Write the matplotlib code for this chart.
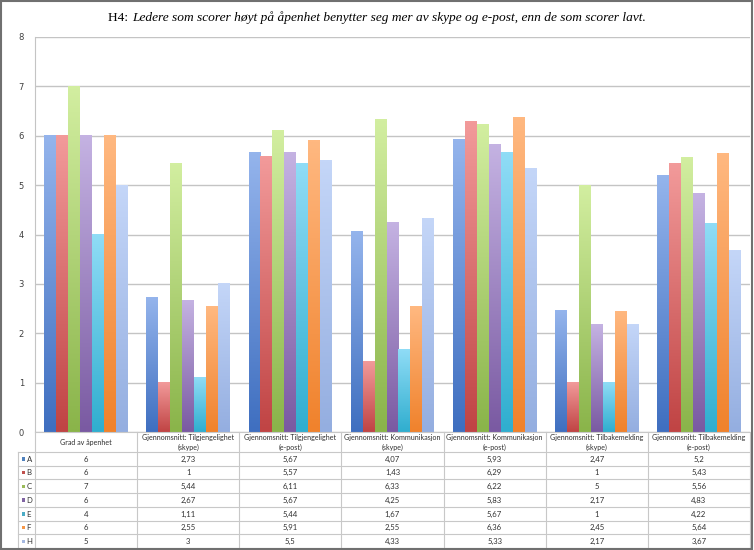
import numpy as np
import matplotlib.pyplot as plt
from matplotlib.colors import to_rgb
from matplotlib.patches import Rectangle

categories = [
    "Grad av åpenhet",
    "Gjennomsnitt: Tilgjengelighet\n(skype)",
    "Gjennomsnitt: Tilgjengelighet\n(e-post)",
    "Gjennomsnitt: Kommunikasjon\n(skype)",
    "Gjennomsnitt: Kommunikasjon\n(e-post)",
    "Gjennomsnitt: Tilbakemelding\n(skype)",
    "Gjennomsnitt: Tilbakemelding\n(e-post)",
]
series = ["A", "B", "C", "D", "E", "F", "H"]
A = [6, 2.73, 5.67, 4.07, 5.93, 2.47, 5.2]
B = [6, 1, 5.57, 1.43, 6.29, 1, 5.43]
C = [7, 5.44, 6.11, 6.33, 6.22, 5, 5.56]
D = [6, 2.67, 5.67, 4.25, 5.83, 2.17, 4.83]
E = [4, 1.11, 5.44, 1.67, 5.67, 1, 4.22]
F = [6, 2.55, 5.91, 2.55, 6.36, 2.45, 5.64]
H = [5, 3, 5.5, 4.33, 5.33, 2.17, 3.67]
values = [A, B, C, D, E, F, H]

# top (light) / bottom (dark) colours of the gradient, plus legend colour
tops = ["#94b4ec", "#f29a9a", "#d2eea0", "#c4b2e2", "#8fdcf6", "#ffb880", "#c4d6f8"]
bottoms = ["#3f6fc0", "#c04444", "#8ab44a", "#7a5aa2", "#30aecf", "#f0822c", "#94aee0"]
keys = ["#4f81bd", "#c0504d", "#9bbb59", "#8064a2", "#4bacc6", "#f79646", "#a5b8e0"]

W, Hpx = 754, 550
fig = plt.figure(figsize=(W / 100, Hpx / 100), dpi=100)
fig.patch.set_facecolor("white")
fig.add_artist(Rectangle((0.001, 0.002), 0.996, 0.996, transform=fig.transFigure,
                         fill=False, edgecolor="#707070", linewidth=1.5))

left, right = 35 / W, 750 / W
ax = fig.add_axes([left, 118 / Hpx, right - left, 395 / Hpx])

x = np.arange(len(categories))
n = len(series)
bw = 0.117
for i, s in enumerate(series):
    bars = ax.bar(x + (i - (n - 1) / 2) * bw, values[i], bw, color="none", linewidth=0)
    c0 = np.array(to_rgb(tops[i]))
    c1 = np.array(to_rgb(bottoms[i]))
    for p in bars:
        t = np.linspace(0, 1, 64)[:, None]
        grad = (c0 * (1 - t) + c1 * t)[:, None, :]
        ax.imshow(grad, extent=(p.get_x(), p.get_x() + p.get_width(), 0, p.get_height()),
                  aspect="auto", interpolation="bilinear", zorder=2)

ax.set_xlim(-0.5, len(categories) - 0.5)
ax.set_ylim(0, 8)
ax.set_yticks(range(0, 9))
ax.tick_params(axis="y", length=0, labelsize=6, labelcolor="#404040", pad=8)
ax.set_xticks([])
ax.grid(axis="y", color="#c4c4c4", linewidth=1)
ax.set_axisbelow(True)
for side in ["top", "right", "bottom"]:
    ax.spines[side].set_visible(False)
ax.spines["left"].set_color("#c4c4c4")

# data table under the chart
tax = fig.add_axes([left, 2 / Hpx, right - left, 116 / Hpx])
tax.set_xlim(-0.5, len(categories) - 0.5)
tax.set_ylim(116, 0)
tax.axis("off")
hdr = 20
rh = (116 - hdr) / n
lc = "#c8c8c8"
lab_x = -0.5 - 17 / 102.1
tfont = dict(family="Lato", color="#303030")
for k in range(len(categories) + 1):
    tax.plot([k - 0.5, k - 0.5], [0, 116], color=lc, lw=0.8, clip_on=False)
tax.plot([lab_x, lab_x], [hdr, 116], color=lc, lw=0.8, clip_on=False)
tax.plot([-0.5, len(categories) - 0.5], [0, 0], color=lc, lw=0.8, clip_on=False)
for r in range(n + 1):
    tax.plot([lab_x, len(categories) - 0.5], [hdr + r * rh] * 2, color=lc, lw=0.8, clip_on=False)
for j, cat in enumerate(categories):
    tax.text(j, hdr / 2 + 0.5, cat, ha="center", va="center", fontsize=5.1,
             linespacing=1.45, **tfont)
for i, s in enumerate(series):
    yc = hdr + (i + 0.5) * rh
    tax.add_patch(Rectangle((lab_x + 0.035, yc - 1.6), 0.03, 3.4, facecolor=keys[i],
                            edgecolor="none", clip_on=False))
    tax.text(lab_x + 0.085, yc + 0.3, s, ha="left", va="center", fontsize=5.6, **tfont)
    for j in range(len(categories)):
        txt = f"{values[i][j]:g}".replace(".", ",")
        tax.text(j, yc + 0.3, txt, ha="center", va="center", fontsize=5.6, **tfont)

# title: "H4:" upright, rest italic
t1 = fig.text(0, 1 - 18 / Hpx, "H4: ", family="Liberation Serif", fontsize=9.6,
              va="center", ha="left")
t2 = fig.text(0, 1 - 18 / Hpx,
              "Ledere som scorer høyt på åpenhet benytter seg mer av skype og e-post, "
              "enn de som scorer lavt.",
              family="Liberation Serif", style="italic", fontsize=9.6,
              va="center", ha="left")
rend = fig.canvas.get_renderer()
w1 = t1.get_window_extent(rend).width
w2 = t2.get_window_extent(rend).width
x0 = (W - w1 - w2) / 2 / W
t1.set_x(x0)
t2.set_x(x0 + w1 / W)

fig.savefig("out.png", dpi=100)
